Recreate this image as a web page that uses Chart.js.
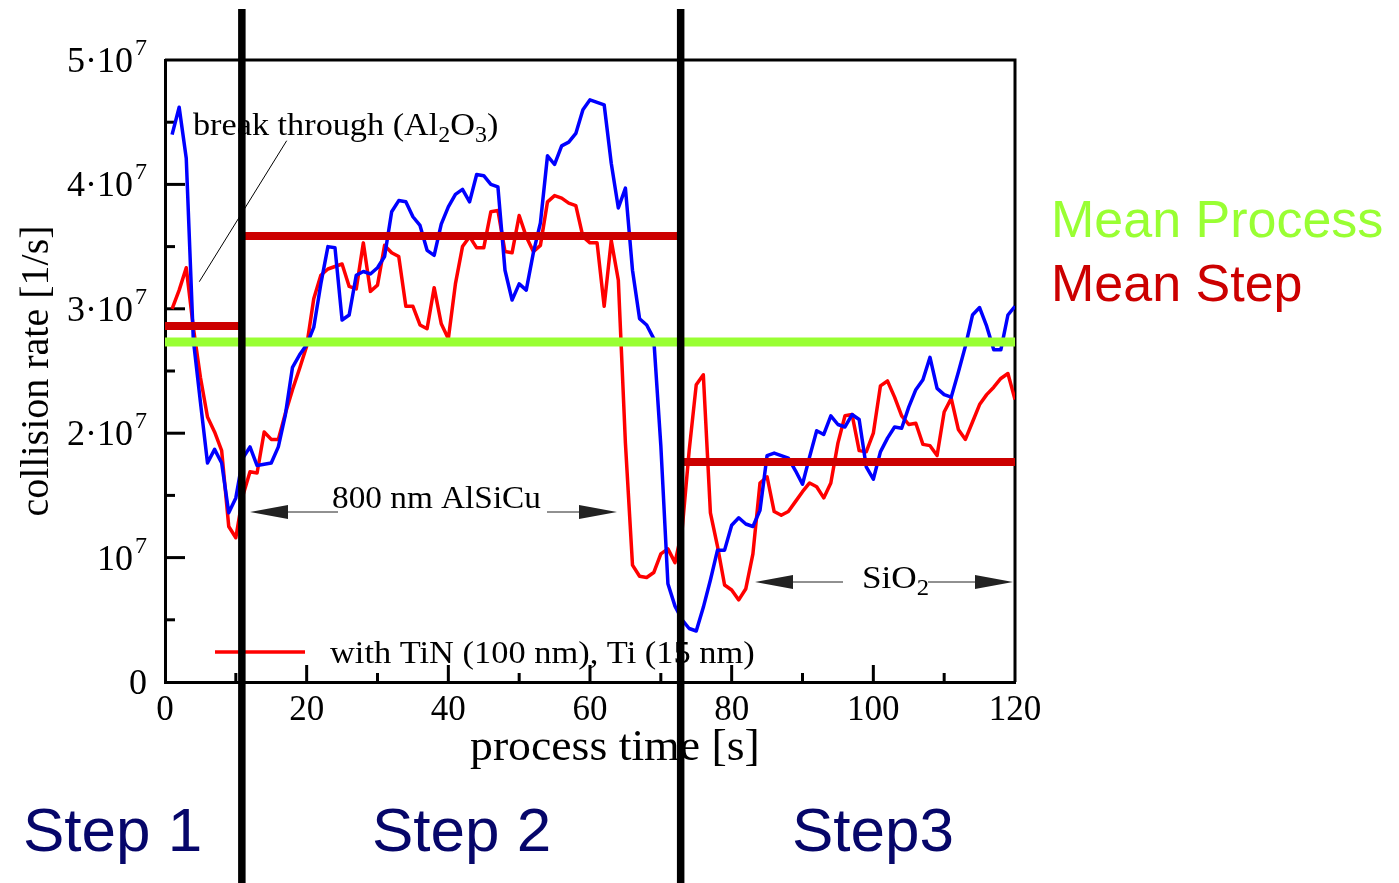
<!DOCTYPE html>
<html lang="en">
<head>
  <meta charset="UTF-8" />
  <title>collision rate</title>
  <script src="https://cdn.jsdelivr.net/npm/chart.js"></script>
  <style>
    * { box-sizing: border-box; margin: 0; padding: 0; }
    body { background: #fff; width: 1399px; height: 883px; overflow: hidden; }
    #chart { display: block; }
  </style>
</head>
<body>
  <canvas id="chart" width="1399" height="883"></canvas>

  <script>
    // process time [s]
    const seconds = [
      1, 2, 3, 4, 5, 6, 7, 8, 9, 10,
      11, 12, 13, 14, 15, 16, 17, 18, 19, 20,
      21, 22, 23, 24, 25, 26, 27, 28, 29, 30,
      31, 32, 33, 34, 35, 36, 37, 38, 39, 40,
      41, 42, 43, 44, 45, 46, 47, 48, 49, 50,
      51, 52, 53, 54, 55, 56, 57, 58, 59, 60,
      61, 62, 63, 64, 65, 66, 67, 68, 69, 70,
      71, 72, 73, 74, 75, 76, 77, 78, 79, 80,
      81, 82, 83, 84, 85, 86, 87, 88, 89, 90,
      91, 92, 93, 94, 95, 96, 97, 98, 99, 100,
      101, 102, 103, 104, 105, 106, 107, 108, 109, 110,
      111, 112, 113, 114, 115, 116, 117, 118, 119, 120
    ];

    // collision rate in units of 10^7 1/s
    const rateBlue = [
      4.40, 4.62, 4.21, 2.75, 2.25, 1.76, 1.87, 1.76, 1.36, 1.48,
      1.80, 1.89, 1.74, 1.75, 1.76, 1.89, 2.15, 2.53, 2.63, 2.71,
      2.85, 3.20, 3.50, 3.49, 2.91, 2.95, 3.27, 3.30, 3.28, 3.33,
      3.42, 3.78, 3.87, 3.86, 3.74, 3.67, 3.47, 3.43, 3.68, 3.82,
      3.92, 3.96, 3.86, 4.08, 4.07, 4.00, 3.98, 3.31, 3.07, 3.20,
      3.15, 3.45, 3.69, 4.23, 4.16, 4.31, 4.34, 4.41, 4.60, 4.68,
      4.66, 4.64, 4.17, 3.81, 3.97, 3.31, 2.92, 2.87, 2.76, 1.90,
      0.79, 0.61, 0.50, 0.43, 0.41, 0.60, 0.82, 1.06, 1.06, 1.26,
      1.32, 1.27, 1.25, 1.38, 1.82, 1.84, 1.82, 1.80, 1.70, 1.59,
      1.81, 2.02, 1.99, 2.14, 2.07, 2.05, 2.15, 2.11, 1.73, 1.63,
      1.85, 1.96, 2.05, 2.04, 2.21, 2.35, 2.43, 2.61, 2.36, 2.31,
      2.29, 2.49, 2.70, 2.95, 3.01, 2.86, 2.67, 2.67, 2.95, 3.02
    ];

    // with TiN (100 nm), Ti (15 nm)
    const rateRed = [
      3.00, 3.15, 3.33, 2.85, 2.45, 2.13, 2.01, 1.86, 1.25, 1.16,
      1.50, 1.69, 1.68, 2.01, 1.95, 1.95, 2.16, 2.35, 2.52, 2.70,
      3.08, 3.27, 3.32, 3.34, 3.36, 3.18, 3.16, 3.53, 3.14, 3.19,
      3.51, 3.45, 3.42, 3.02, 3.02, 2.87, 2.84, 3.17, 2.88, 2.76,
      3.20, 3.50, 3.58, 3.49, 3.49, 3.78, 3.79, 3.46, 3.45, 3.75,
      3.58, 3.46, 3.51, 3.86, 3.91, 3.89, 3.85, 3.83, 3.58, 3.53,
      3.53, 3.02, 3.55, 3.23, 1.92, 0.94, 0.85, 0.84, 0.88, 1.03,
      1.07, 0.96, 1.22, 1.86, 2.39, 2.47, 1.36, 1.09, 0.78, 0.74,
      0.66, 0.75, 1.03, 1.60, 1.65, 1.37, 1.34, 1.37, 1.45, 1.53,
      1.60, 1.57, 1.48, 1.60, 1.92, 2.14, 2.15, 1.86, 1.85, 2.00,
      2.38, 2.42, 2.29, 2.14, 2.07, 2.08, 1.91, 1.90, 1.82, 2.17,
      2.28, 2.03, 1.95, 2.09, 2.23, 2.31, 2.37, 2.44, 2.48, 2.27
    ];

    const meanProcess = 2.733;
    const stepBounds = [0, 10.85, 72.8, 120];
    const stepMeans = [2.862, 3.585, 1.768];
    const stepNames = ['Step 1', 'Step 2', 'Step3'];
    const yLabelValues = [0, 1, 2, 3, 4, 5];
    const xLabelValues = [0, 20, 40, 60, 80, 100, 120];

    const SERIF = "'Liberation Serif', 'Times New Roman', serif";
    const SANS = "'Liberation Sans', Arial, sans-serif";

    const toPoints = (xs, ys) => xs.map((x, i) => ({ x: x, y: ys[i] }));

    const stepPoints = [];
    stepMeans.forEach((m, i) => {
      stepPoints.push({ x: stepBounds[i], y: m }, { x: stepBounds[i + 1], y: m }, { x: stepBounds[i + 1], y: null });
    });

    const dividerPoints = [];
    stepBounds.slice(1, -1).forEach(b => {
      dividerPoints.push({ x: b, y: -1.7 }, { x: b, y: 5.41 }, { x: b, y: null });
    });

    // text with sub/superscripts, optionally stretched horizontally
    function drawRich(ctx, parts, x, y, size, family, sx) {
      ctx.save();
      ctx.translate(x, y);
      ctx.scale(sx || 1, 1);
      ctx.textBaseline = 'alphabetic';
      ctx.textAlign = 'left';
      let cx = 0;
      parts.forEach(p => {
        const kind = p[1] || 'n';
        let fs = size, dy = 0;
        if (kind === 'sub') { fs = size * 0.7; dy = size * 0.22; }
        if (kind === 'sup') { fs = size * 0.65; dy = -size * 0.42; }
        ctx.font = fs + 'px ' + family;
        ctx.fillText(p[0], cx, dy);
        cx += ctx.measureText(p[0]).width;
      });
      ctx.restore();
    }

    function arrowHead(ctx, tipX, y, dir) {
      const len = 38, half = 7;
      ctx.beginPath();
      ctx.moveTo(tipX, y);
      ctx.lineTo(tipX + dir * len, y - half);
      ctx.lineTo(tipX + dir * len, y + half);
      ctx.closePath();
      ctx.fill();
    }

    const decor = {
      id: 'decor',
      beforeDatasetsDraw(chart) {
        const { ctx, chartArea: a, scales: { x, y } } = chart;
        ctx.save();
        ctx.strokeStyle = '#000';
        ctx.fillStyle = '#000';

        // frame top / right
        ctx.lineWidth = 3;
        ctx.beginPath();
        ctx.moveTo(a.left, a.top);
        ctx.lineTo(a.right, a.top);
        ctx.lineTo(a.right, a.bottom);
        ctx.stroke();

        // inward ticks
        x.ticks.forEach(t => {
          if (t.value <= x.min || t.value >= x.max) return;
          const px = x.getPixelForValue(t.value);
          const len = t.value % 20 === 0 ? 17 : 9;
          ctx.beginPath();
          ctx.moveTo(px, a.bottom);
          ctx.lineTo(px, a.bottom - len);
          ctx.stroke();
        });
        y.ticks.forEach(t => {
          if (t.value <= y.min || t.value >= y.max) return;
          const py = y.getPixelForValue(t.value);
          const len = Number.isInteger(t.value) ? 20 : 10;
          ctx.beginPath();
          ctx.moveTo(a.left, py);
          ctx.lineTo(a.left + len, py);
          ctx.stroke();
        });

        // x tick labels
        ctx.font = '35px ' + SERIF;
        ctx.textAlign = 'center';
        ctx.textBaseline = 'alphabetic';
        xLabelValues.forEach(v => {
          ctx.fillText(String(v), x.getPixelForValue(v), a.bottom + 38);
        });

        // y tick labels  n·10^7
        const rightEdge = a.left - 18;
        yLabelValues.forEach(v => {
          const py = y.getPixelForValue(v);
          ctx.textAlign = 'right';
          if (v === 0) {
            ctx.font = '36px ' + SERIF;
            ctx.fillText('0', rightEdge, py + 12);
            return;
          }
          ctx.font = '24px ' + SERIF;
          const supW = ctx.measureText('7').width;
          ctx.fillText('7', rightEdge, py - 5);
          ctx.font = '36px ' + SERIF;
          ctx.fillText(v === 1 ? '10' : v + '\u00b710', rightEdge - supW - 2, py + 12);
        });

        // x axis title
        drawRich(ctx, [['process time [s]']], 470, a.bottom + 78, 44, SERIF, 1.04);

        // annotations
        drawRich(ctx, [['break through (Al'], ['2', 'sub'], ['O'], ['3', 'sub'], [')']], 193, 135, 32, SERIF, 1.07);
        ctx.lineWidth = 1;
        ctx.beginPath();
        ctx.moveTo(286.7, 140.7);
        ctx.lineTo(199.3, 281.7);
        ctx.stroke();

        drawRich(ctx, [['800 nm AlSiCu']], 332, 508, 32, SERIF, 1.04);
        ctx.fillStyle = '#222';
        ctx.strokeStyle = '#222';
        ctx.lineWidth = 1;
        ctx.beginPath();
        ctx.moveTo(288, 512); ctx.lineTo(338, 512);
        ctx.moveTo(547, 512); ctx.lineTo(580, 512);
        ctx.moveTo(793, 582); ctx.lineTo(843, 582);
        ctx.moveTo(928, 582); ctx.lineTo(980, 582);
        ctx.stroke();
        arrowHead(ctx, 250, 512, 1);
        arrowHead(ctx, 617, 512, -1);
        arrowHead(ctx, 755, 582, 1);
        arrowHead(ctx, 1013, 582, -1);
        ctx.fillStyle = '#000';
        drawRich(ctx, [['SiO'], ['2', 'sub']], 862, 588, 32, SERIF, 1.1);

        // legend for red curve
        ctx.strokeStyle = '#ff0000';
        ctx.lineWidth = 3.5;
        ctx.beginPath();
        ctx.moveTo(215, 652);
        ctx.lineTo(305, 652);
        ctx.stroke();
        ctx.fillStyle = '#000';
        drawRich(ctx, [['with TiN (100 nm), Ti (15 nm)']], 330, 663, 32, SERIF, 1.075);

        // mean legend
        ctx.fillStyle = '#99ff33';
        drawRich(ctx, [['Mean Process']], 1051, 237, 52, SANS, 1);
        ctx.fillStyle = '#cc0000';
        drawRich(ctx, [['Mean Step']], 1051, 301, 52, SANS, 1);

        // step names
        ctx.fillStyle = '#06066a';
        [23, 372, 792].forEach((px, i) => {
          drawRich(ctx, [[stepNames[i]]], px, 851, 62, SANS, 1);
        });

        ctx.restore();
      }
    };

    new Chart(document.getElementById('chart'), {
      type: 'line',
      data: {
        datasets: [
          {
            label: 'steps',
            data: dividerPoints,
            borderColor: '#000',
            borderWidth: 7.5,
            borderCapStyle: 'butt',
            pointRadius: 0,
            spanGaps: false,
            clip: false
          },
          {
            label: 'Mean Process',
            data: [{ x: 0, y: meanProcess }, { x: 120, y: meanProcess }],
            borderColor: '#99ff33',
            borderWidth: 9,
            borderCapStyle: 'butt',
            pointRadius: 0
          },
          {
            label: 'Mean Step',
            data: stepPoints,
            borderColor: '#cc0000',
            borderWidth: 8,
            borderCapStyle: 'butt',
            pointRadius: 0,
            spanGaps: false
          },
          {
            label: 'without barrier',
            data: toPoints(seconds, rateBlue),
            borderColor: '#0000ff',
            borderWidth: 3.5,
            borderJoinStyle: 'round',
            pointRadius: 0,
            tension: 0
          },
          {
            label: 'with TiN (100 nm), Ti (15 nm)',
            data: toPoints(seconds, rateRed),
            borderColor: '#ff0000',
            borderWidth: 3.5,
            borderJoinStyle: 'round',
            pointRadius: 0,
            tension: 0
          }
        ]
      },
      options: {
        responsive: false,
        animation: false,
        layout: { padding: { top: 60, right: 384, bottom: 0, left: 0 } },
        plugins: { legend: { display: false }, tooltip: { enabled: false } },
        scales: {
          x: {
            type: 'linear',
            min: 0,
            max: 120,
            ticks: { stepSize: 10, display: false },
            grid: { display: false },
            border: { color: '#000', width: 3 },
            afterFit: s => { s.height = 201; }
          },
          y: {
            min: 0,
            max: 5,
            ticks: { stepSize: 0.5, display: false },
            grid: { display: false },
            border: { color: '#000', width: 3 },
            title: {
              display: true,
              text: 'collision rate [1/s]',
              color: '#000',
              font: { family: SERIF, size: 40 },
              padding: { top: 13, bottom: 0 }
            },
            afterFit: s => { s.width = 165; }
          }
        }
      },
      plugins: [decor]
    });
  </script>
</body>
</html>
